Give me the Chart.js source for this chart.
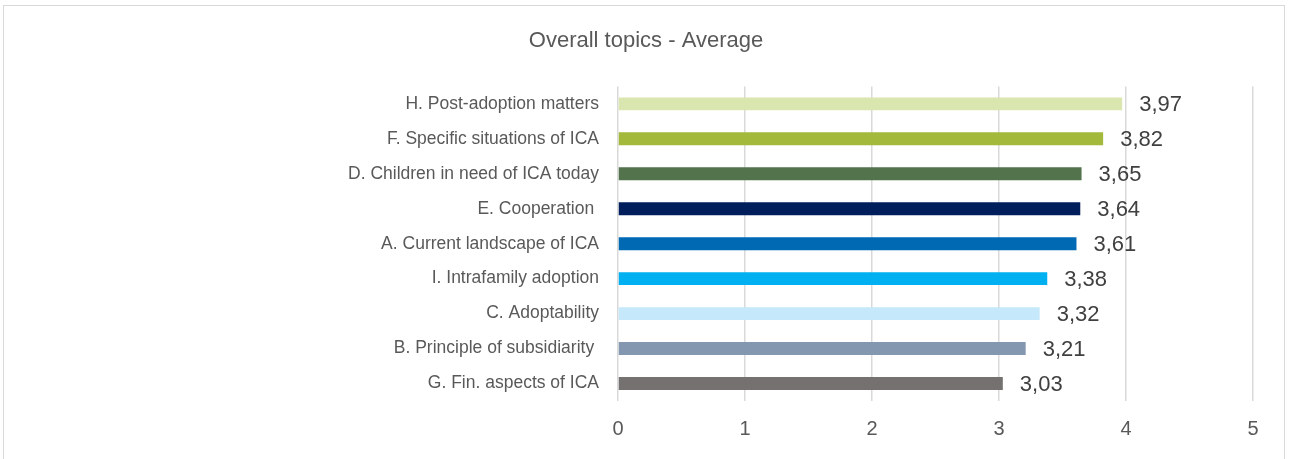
<!DOCTYPE html>
<html>
<head>
<meta charset="utf-8">
<script src="https://cdn.jsdelivr.net/npm/chart.js@4"></script>
<style>
  html, body { margin: 0; padding: 0; background: #fff; }
  .frame {
    position: absolute; left: 3px; top: 5px; width: 1282px; height: 470px;
    border: 1.5px solid #d9d9d9; box-sizing: border-box;
  }
  .wrap { position: absolute; left: 0; top: 0; width: 1290px; height: 459px; }
</style>
</head>
<body>
<div class="frame"></div>
<div class="wrap"><canvas id="topicsChart"></canvas></div>
<script>
const topics = [
  "H. Post-adoption matters",
  "F. Specific situations of ICA",
  "D. Children in need of ICA today",
  "E. Cooperation ",
  "A. Current landscape of ICA",
  "I. Intrafamily adoption",
  "C. Adoptability",
  "B. Principle of subsidiarity ",
  "G. Fin. aspects of ICA",
];
const averages = [3.97, 3.82, 3.65, 3.64, 3.61, 3.38, 3.32, 3.21, 3.03];
const xTicks = [0, 1, 2, 3, 4, 5];
const barColors = [
  "#D9E6B0", // light green
  "#A2B93C", // olive
  "#52734C", // dark green
  "#001E5C", // navy
  "#0069B4", // blue
  "#00B0F0", // cyan
  "#C5E9FA", // pale blue
  "#8497B0", // grey blue
  "#767171", // grey
];

// value labels to the right of each bar, with decimal comma
const valueLabels = {
  id: "valueLabels",
  afterDatasetsDraw(chart) {
    const { ctx } = chart;
    const meta = chart.getDatasetMeta(0);
    ctx.save();
    ctx.font = "22px 'Liberation Sans', Arial, sans-serif";
    ctx.fillStyle = "#404040";
    ctx.textAlign = "left";
    ctx.textBaseline = "middle";
    meta.data.forEach((bar, i) => {
      const txt = averages[i].toFixed(2).replace(".", ",");
      ctx.fillText(txt, bar.x + 17, bar.y + 1);
    });
    ctx.restore();
  },
};

new Chart(document.getElementById("topicsChart"), {
  type: "bar",
  data: {
    labels: topics,
    datasets: [
      {
        label: "Average",
        data: averages,
        backgroundColor: barColors,
        borderWidth: 0,
        barPercentage: 0.37,
        categoryPercentage: 1,
      },
    ],
  },
  options: {
    indexAxis: "y",
    responsive: true,
    maintainAspectRatio: false,
    animation: false,
    layout: { padding: { left: 39, right: 37, top: 0, bottom: 0 } },
    plugins: {
      legend: { display: false },
      tooltip: { enabled: false },
      title: {
        display: true,
        text: "Overall topics - Average",
        color: "#595959",
        font: { family: "'Liberation Sans', Arial", size: 22, weight: "normal" },
        padding: { top: 28, bottom: 32 },
      },
    },
    scales: {
      x: {
        min: 0,
        max: 5,
        afterBuildTicks: (scale) => {
          scale.ticks = xTicks.map((v) => ({ value: v }));
        },
        afterFit: (scale) => {
          scale.height = 58;
        },
        grid: { color: "#d9d9d9", lineWidth: 1.5, drawTicks: false },
        border: { display: false },
        ticks: {
          color: "#595959",
          padding: 16,
          font: { family: "'Liberation Sans', Arial", size: 20 },
        },
      },
      y: {
        afterFit: (scale) => {
          scale.width = 579;
        },
        grid: { display: false },
        border: { display: false },
        ticks: {
          color: "#595959",
          padding: 11,
          font: { family: "'Liberation Sans', Arial", size: 17.5 },
        },
      },
    },
  },
  plugins: [valueLabels],
});
</script>
</body>
</html>
